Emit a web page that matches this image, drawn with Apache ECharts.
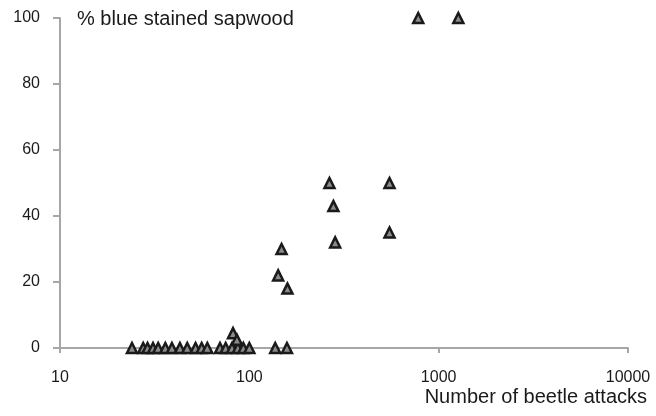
<!DOCTYPE html>
<html>
<head>
<meta charset="utf-8">
<script src="https://cdn.jsdelivr.net/npm/echarts@6/dist/echarts.min.js"></script>
<style>
html,body{margin:0;padding:0;background:#fff;}
#chart{width:656px;height:416px;}
</style>
</head>
<body>
<div id="chart"></div>
<script>
// Number of beetle attacks (x) and % blue stained sapwood (y)
var attacks = [24, 27.5, 29, 31, 33, 36, 39, 43, 47, 52, 56, 60, 70, 75, 81, 87, 93, 100, 137, 158,
               82, 86,
               148, 142, 159,
               265, 278, 284,
               550, 550,
               780, 1270];
var stained = [0, 0, 0, 0, 0, 0, 0, 0, 0, 0, 0, 0, 0, 0, 0, 0, 0, 0, 0, 0,
               4.5, 2.5,
               30, 22, 18,
               50, 43, 32,
               50, 35,
               100, 100];
var xTicks = [10, 100, 1000, 10000];
var yTicks = [0, 20, 40, 60, 80, 100];
var yTitle = '% blue stained sapwood';
var xTitle = 'Number of beetle attacks';

var points = attacks.map(function (a, i) { return [a, stained[i]]; });

var chart = echarts.init(document.getElementById('chart'), null, {renderer: 'canvas'});
var axisColor = '#a6a6a6';
var textColor = '#1a1a1a';
var font = 'Liberation Sans, Arial, Helvetica, sans-serif';
chart.setOption({
  animation: false,
  backgroundColor: '#ffffff',
  textStyle: {fontFamily: font},
  title: [
    {text: yTitle, left: 77, top: 9, padding: 0,
     textStyle: {fontSize: 20, fontWeight: 'normal', color: textColor, fontFamily: font}},
    {text: xTitle, right: 9, top: 387, padding: 0,
     textStyle: {fontSize: 20, fontWeight: 'normal', color: textColor, fontFamily: font}}
  ],
  grid: {left: 60, right: 28, top: 18, bottom: 68, containLabel: false},
  xAxis: {
    type: 'log', logBase: 10, min: xTicks[0], max: xTicks[xTicks.length - 1],
    axisLine: {show: true, onZero: false, lineStyle: {color: axisColor, width: 2}},
    axisTick: {show: true, length: 5, lineStyle: {color: axisColor, width: 2}},
    minorTick: {show: false},
    splitLine: {show: false},
    axisLabel: {fontSize: 16, color: textColor, margin: 22, fontFamily: font,
      formatter: function (v) { return String(Math.round(v)); }}
  },
  yAxis: {
    type: 'value', min: yTicks[0], max: yTicks[yTicks.length - 1], interval: 20,
    axisLine: {show: true, lineStyle: {color: axisColor, width: 2}},
    axisTick: {show: true, length: 7, lineStyle: {color: axisColor, width: 2}},
    splitLine: {show: false},
    axisLabel: {fontSize: 16, color: textColor, margin: 20, fontFamily: font}
  },
  series: [{
    type: 'scatter',
    data: points,
    symbol: 'triangle',
    symbolSize: [10, 10],
    itemStyle: {color: '#8a8a8a', borderColor: '#1a1a1a', borderWidth: 2.5, opacity: 1},
    emphasis: {disabled: true},
    z: 5
  }]
});
</script>
</body>
</html>
